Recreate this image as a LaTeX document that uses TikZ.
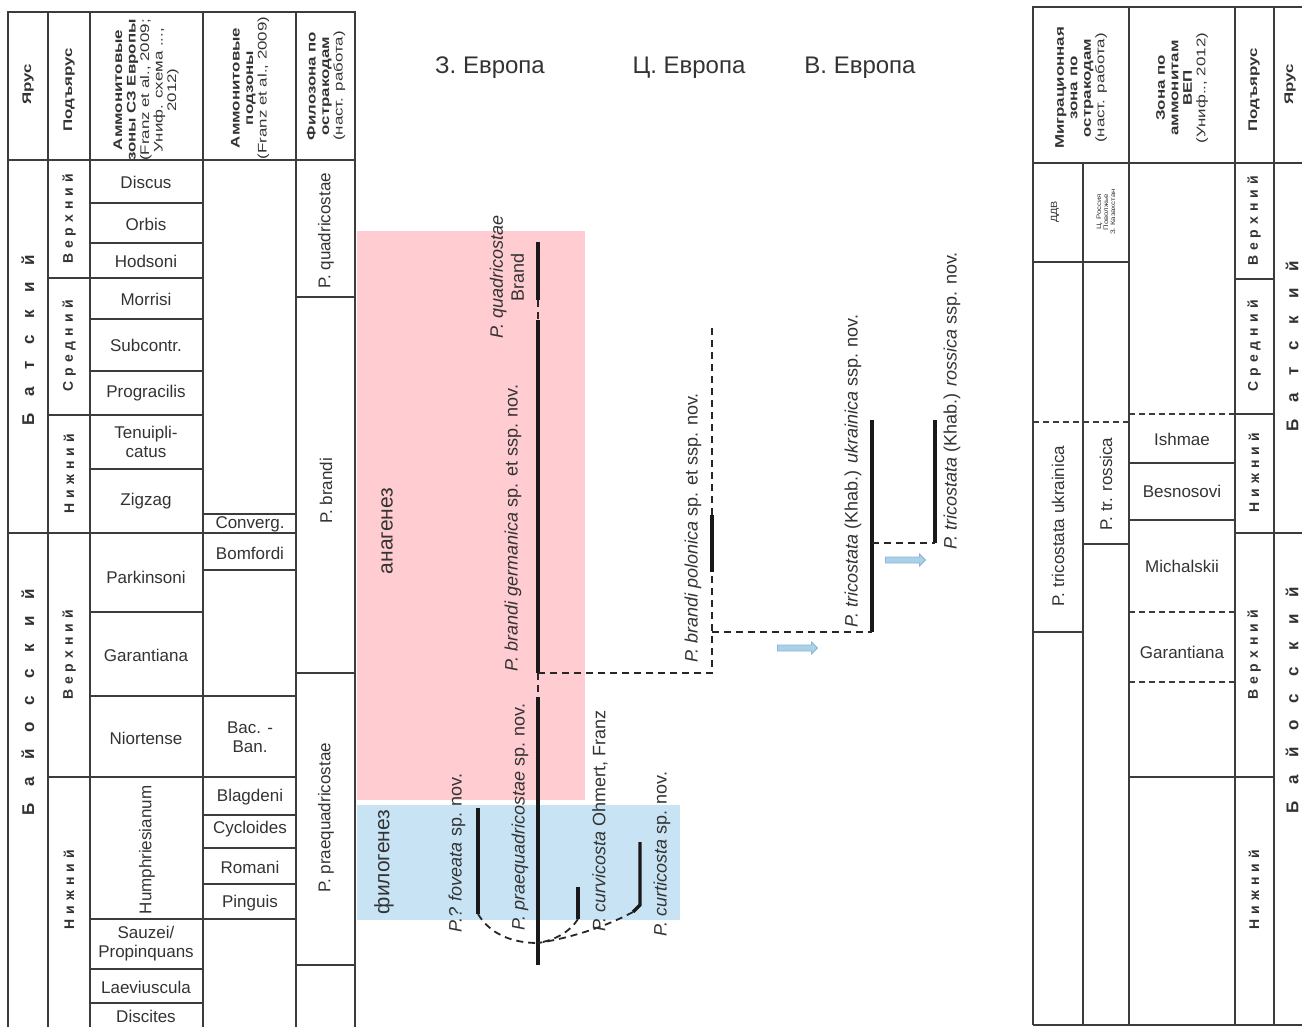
\documentclass[tikz,border=0pt]{standalone}
\usepackage{fontspec}
\setmainfont{Liberation Sans}
\newfontfamily\spreadfont[LetterSpace=36]{Liberation Sans}
\newfontfamily\stagefont[LetterSpace=100]{Liberation Sans}
\usetikzlibrary{shapes.arrows}

\definecolor{rule}{HTML}{3C3C3C}
\definecolor{anapink}{HTML}{FFCCD1}
\definecolor{phyblue}{HTML}{C8E4F4}
\definecolor{migfill}{HTML}{ABD1E8}
\definecolor{migedge}{HTML}{88B7D6}

\begin{document}
\begin{tikzpicture}[x = 1pt, y = -1pt,
	every node/.style = {text = black!80},
	tabrule/.style = {draw = rule, line width = 1.7pt},
	tabcut/.style = {tabrule, dash pattern = on 6pt off 4pt},
	zone/.style = {align = center, font = \fontsize{17}{19}\selectfont},
	vzone/.style = {zone, rotate = 90},
	head/.style = {rotate = 90, xscale = 1.35, align = center, font = \fontsize{12.5}{13.5}\selectfont},
	boldhead/.style = {head, font = \bfseries\fontsize{12.5}{13.5}\selectfont},
	substage/.style = {rotate = 90, font = \spreadfont\bfseries\fontsize{14}{16}\selectfont},
	stagename/.style = {rotate = 90, font = \stagefont\bfseries\fontsize{17}{19}\selectfont},
	regionname/.style = {font = \fontsize{24}{26}\selectfont},
	processname/.style = {rotate = 90, font = \fontsize{21}{23}\selectfont},
	taxon/.style = {rotate = 90, align = center, font = \fontsize{18}{21}\selectfont},
	spanline/.style = {draw = black!90, line width = 3.4pt},
	spanlink/.style = {draw = black!85, line width = 1.8pt, dash pattern = on 7pt off 5pt},
	migarrow/.style = {single arrow, fill = migfill, draw = migedge, line width = 0.8pt,
		inner xsep = 0pt, inner ysep = 2.6pt, minimum height = 40pt,
		single arrow head extend = 3pt}]
	
	\useasboundingbox (0, 0) rectangle (1302, 1027);
	
	% Evolution fields
	
	\fill [anapink] (357, 231) rectangle (585, 800);
	\fill [phyblue] (357, 805) rectangle (680, 920);
	
	% Left table: rules
	
	\draw [tabrule] (8, 1027) -- (8, 12) -- (355, 12) -- (355, 1027);
	\foreach \x in {48, 90, 203, 296}
		\draw [tabrule] (\x, 12) -- (\x, 1027);
	\draw [tabrule] (8, 160) -- (355, 160);
	\draw [tabrule] (8, 533) -- (296, 533);
	\foreach \y in {278, 415, 777}
		\draw [tabrule] (48, \y) -- (203, \y);
	\foreach \y in {203, 243, 319, 371, 469, 612, 696, 919, 969, 1003}
		\draw [tabrule] (90, \y) -- (203, \y);
	\foreach \y in {514, 570, 696, 777, 815, 848, 884, 919}
		\draw [tabrule] (203, \y) -- (296, \y);
	\foreach \y in {297, 673, 965}
		\draw [tabrule] (296, \y) -- (355, \y);
	
	% Left table: headings
	
	\node [boldhead] (lyarus) at (28, 84) {Ярус};
	\node [boldhead] (lpodyarus) at (69, 90) {Подъярус};
	\node [head] (lammzone) at (146, 90) {\textbf{Аммонитовые}\\\textbf{зоны СЗ Европы}\\(Franz et al., 2009;\\Униф. схема ...,\\2012)};
	\node [head] (lammsub) at (250, 88) {\textbf{Аммонитовые}\\\textbf{подзоны}\\(Franz et al., 2009)};
	\node [head] (lphylo) at (326, 86) {\textbf{Филозона по}\\\textbf{остракодам}\\(наст. работа)};
	
	% Left table: stages and substages
	
	\node [stagename] (lbath) at (28, 340) {Батский};
	\node [stagename] (lbaj) at (28, 702) {Байосский};
	\node [substage] (lbath3) at (69, 219) {Верхний};
	\node [substage] (lbath2) at (69, 346) {Средний};
	\node [substage] (lbath1) at (69, 474) {Нижний};
	\node [substage] (lbaj2) at (69, 655) {Верхний};
	\node [substage] (lbaj1) at (69, 890) {Нижний};
	
	% Left table: ammonite zones
	
	\node [zone] (discus) at (146, 182) {Discus};
	\node [zone] (orbis) at (146, 224) {Orbis};
	\node [zone] (hodsoni) at (146, 261) {Hodsoni};
	\node [zone] (morrisi) at (146, 299) {Morrisi};
	\node [zone] (subcontr) at (146, 345) {Subcontr.};
	\node [zone] (progracilis) at (146, 393) {Progracilis};
	\node [zone] (tenuiplicatus) at (146, 442) {Tenuipli-\\catus};
	\node [zone] (zigzag) at (146, 501) {Zigzag};
	\node [zone] (parkinsoni) at (146, 577) {Parkinsoni};
	\node [zone] (garantiana) at (146, 655) {Garantiana};
	\node [zone] (niortense) at (146, 738) {Niortense};
	\node [vzone] (humphriesianum) at (147, 850) {Humphriesianum};
	\node [zone] (sauzei) at (146, 944) {Sauzei/\\Propinquans};
	\node [zone] (laeviuscula) at (146, 987) {Laeviuscula};
	\node [zone] (discites) at (146, 1016) {Discites};
	
	% Left table: ammonite subzones
	
	\node [zone] (converg) at (250, 524) {Converg.};
	\node [zone] (bomfordi) at (250, 553) {Bomfordi};
	\node [zone] (bacban) at (250, 737) {Bac. -\\Ban.};
	\node [zone] (blagdeni) at (250, 797) {Blagdeni};
	\node [zone] (cycloides) at (250, 829) {Cycloides};
	\node [zone] (romani) at (250, 867) {Romani};
	\node [zone] (pinguis) at (250, 903) {Pinguis};
	
	% Left table: phylozones
	
	\node [vzone] (zquad) at (326, 231) {P. quadricostae};
	\node [vzone] (zbrandi) at (326, 491) {P. brandi};
	\node [vzone] (zprae) at (326, 818) {P. praequadricostae};
	
	% Regions
	
	\node [regionname] (west) at (490, 68) {З. Европа};
	\node [regionname] (central) at (689, 68) {Ц. Европа};
	\node [regionname] (east) at (860, 68) {В. Европа};
	
	\node [processname] (anagenesis) at (387, 531) {анагенез};
	\node [processname] (phylogenesis) at (384, 862) {филогенез};
	
	% Ranges of the species
	
	\coordinate (qtop) at (538, 242);
	\coordinate (qbot) at (538, 300);
	\coordinate (gtop) at (538, 320);
	\coordinate (gbot) at (538, 673);
	\coordinate (ptop) at (538, 697);
	\coordinate (pbot) at (538, 965);
	\coordinate (pjoin) at (538, 943);
	
	\coordinate (ftop) at (478, 808);
	\coordinate (fbot) at (478, 914);
	\coordinate (cvtop) at (578, 887);
	\coordinate (cvbot) at (578, 919);
	\coordinate (cttop) at (640, 842);
	\coordinate (ctbot) at (640, 905);
	\coordinate (ctbend) at (633, 912);
	
	\coordinate (poltop) at (712, 328);
	\coordinate (polA) at (712, 515);
	\coordinate (polB) at (712, 572);
	\coordinate (polC) at (712, 632);
	\coordinate (polbot) at (712, 673);
	
	\coordinate (ukrtop) at (872, 420);
	\coordinate (ukrmid) at (872, 543);
	\coordinate (ukrbot) at (872, 632);
	\coordinate (rostop) at (935, 420);
	\coordinate (rosbot) at (935, 543);
	
	\begin{scope}[spanline]
	
		\draw (qtop) -- (qbot);
		\draw (gtop) -- (gbot);
		\draw (ptop) -- (pbot);
		\draw (ftop) -- (fbot);
		\draw (cvtop) -- (cvbot);
		\draw (cttop) -- (ctbot) -- (ctbend);
		\draw (polA) -- (polB);
		\draw (ukrtop) -- (ukrbot);
		\draw (rostop) -- (rosbot);
		
	\end{scope}
	
	% Dashed links between the ranges
	
	\begin{scope}[spanlink]
	
		\draw (qbot) -- (gtop);
		\draw (gbot) -- (ptop);
		\draw (gbot) -- (polbot) -- (polB);
		\draw (polA) -- (poltop);
		\draw (polC) -- (ukrbot);
		\draw (ukrmid) -- (rosbot);
		\draw (fbot) .. controls (490, 934) and (512, 943) .. (pjoin);
		\draw (cvbot) .. controls (570, 932) and (555, 940) .. (pjoin);
		\draw (ctbend) .. controls (605, 927) and (570, 938) .. (pjoin);
		
	\end{scope}
	
	% Migration arrows
	
	\node [migarrow] (migA) at (796, 648) {};
	\node [migarrow] (migB) at (904, 560) {};
	
	% Species names
	
	\node [taxon] (lquad) at (507, 277) {\textit{P. quadricostae}\\Brand};
	\node [taxon] (lgerm) at (513, 528) {\textit{P. brandi germanica} sp. et ssp. nov.};
	\node [taxon] (lfov) at (457, 853) {\textit{P.? foveata} sp. nov.};
	\node [taxon] (lprae) at (520, 817) {\textit{P. praequadricostae} sp. nov.};
	\node [taxon] (lcurv) at (600, 821) {\textit{P. curvicosta} Ohmert, Franz};
	\node [taxon] (lcurt) at (662, 854) {\textit{P. curticosta} sp. nov.};
	\node [taxon] (lpol) at (693, 528) {\textit{P. brandi polonica} sp. et ssp. nov.};
	\node [taxon] (lukr) at (853, 471) {\textit{P. tricostata} (Khab.) \textit{ukrainica} ssp. nov.};
	\node [taxon] (lros) at (952, 401) {\textit{P. tricostata} (Khab.) \textit{rossica} ssp. nov.};
	
	% Right table: rules
	
	\draw [tabrule] (1033, 1025) -- (1033, 7) -- (1302, 7);
	\foreach \x in {1129, 1235, 1274}
		\draw [tabrule] (\x, 7) -- (\x, 1025);
	\draw [tabrule] (1083, 163) -- (1083, 1025);
	\draw [tabrule] (1033, 163) -- (1302, 163);
	\draw [tabrule] (1033, 1025) -- (1302, 1025);
	\draw [tabrule] (1033, 262) -- (1129, 262);
	\draw [tabcut] (1033, 422) -- (1129, 422);
	\draw [tabrule] (1033, 632) -- (1083, 632);
	\draw [tabrule] (1083, 544) -- (1129, 544);
	\draw [tabcut] (1129, 414) -- (1235, 414);
	\draw [tabrule] (1129, 463) -- (1235, 463);
	\draw [tabrule] (1129, 520) -- (1235, 520);
	\draw [tabcut] (1129, 612) -- (1235, 612);
	\draw [tabcut] (1129, 682) -- (1235, 682);
	\draw [tabrule] (1129, 777) -- (1274, 777);
	\draw [tabrule] (1235, 279) -- (1274, 279);
	\draw [tabrule] (1235, 414) -- (1274, 414);
	\draw [tabrule] (1235, 533) -- (1302, 533);
	
	% Right table: headings
	
	\node [head] (rmigr) at (1081, 88) {\textbf{Миграционная}\\\textbf{зона по}\\\textbf{остракодам}\\(наст. работа)};
	\node [head] (rammzone) at (1182, 88) {\textbf{Зона по}\\\textbf{аммонитам}\\\textbf{ВЕП}\\(Униф.., 2012)};
	\node [boldhead] (rpodyarus) at (1254, 90) {Подъярус};
	\node [boldhead] (ryarus) at (1290, 84) {Ярус};
	
	% Right table: contents
	
	\node [rotate = 90, xscale = 1.2, font = \fontsize{9}{10}\selectfont] (ddv) at (1055, 212) {ДДВ};
	\node [rotate = 90, xscale = 1.2, align = center, font = \fontsize{6.5}{7}\selectfont] (rareas) at (1106, 212) {Ц. Россия\\Поволжье\\З. Казахстан};
	\node [vzone] (mukr) at (1058, 526) {P. tricostata ukrainica};
	\node [vzone] (mros) at (1106, 484) {P. tr. rossica};
	
	\node [zone] (ishmae) at (1182, 439) {Ishmae};
	\node [zone] (besnosovi) at (1182, 491) {Besnosovi};
	\node [zone] (michalskii) at (1182, 566) {Michalskii};
	\node [zone] (rgarantiana) at (1182, 652) {Garantiana};
	
	\node [substage] (rbath3) at (1254, 221) {Верхний};
	\node [substage] (rbath2) at (1254, 346) {Средний};
	\node [substage] (rbath1) at (1254, 473) {Нижний};
	\node [substage] (rbaj2) at (1254, 655) {Верхний};
	\node [substage] (rbaj1) at (1254, 890) {Нижний};
	\node [stagename] (rbath) at (1292, 346) {Батский};
	\node [stagename] (rbaj) at (1292, 700) {Байосский};

\end{tikzpicture}
\end{document}
